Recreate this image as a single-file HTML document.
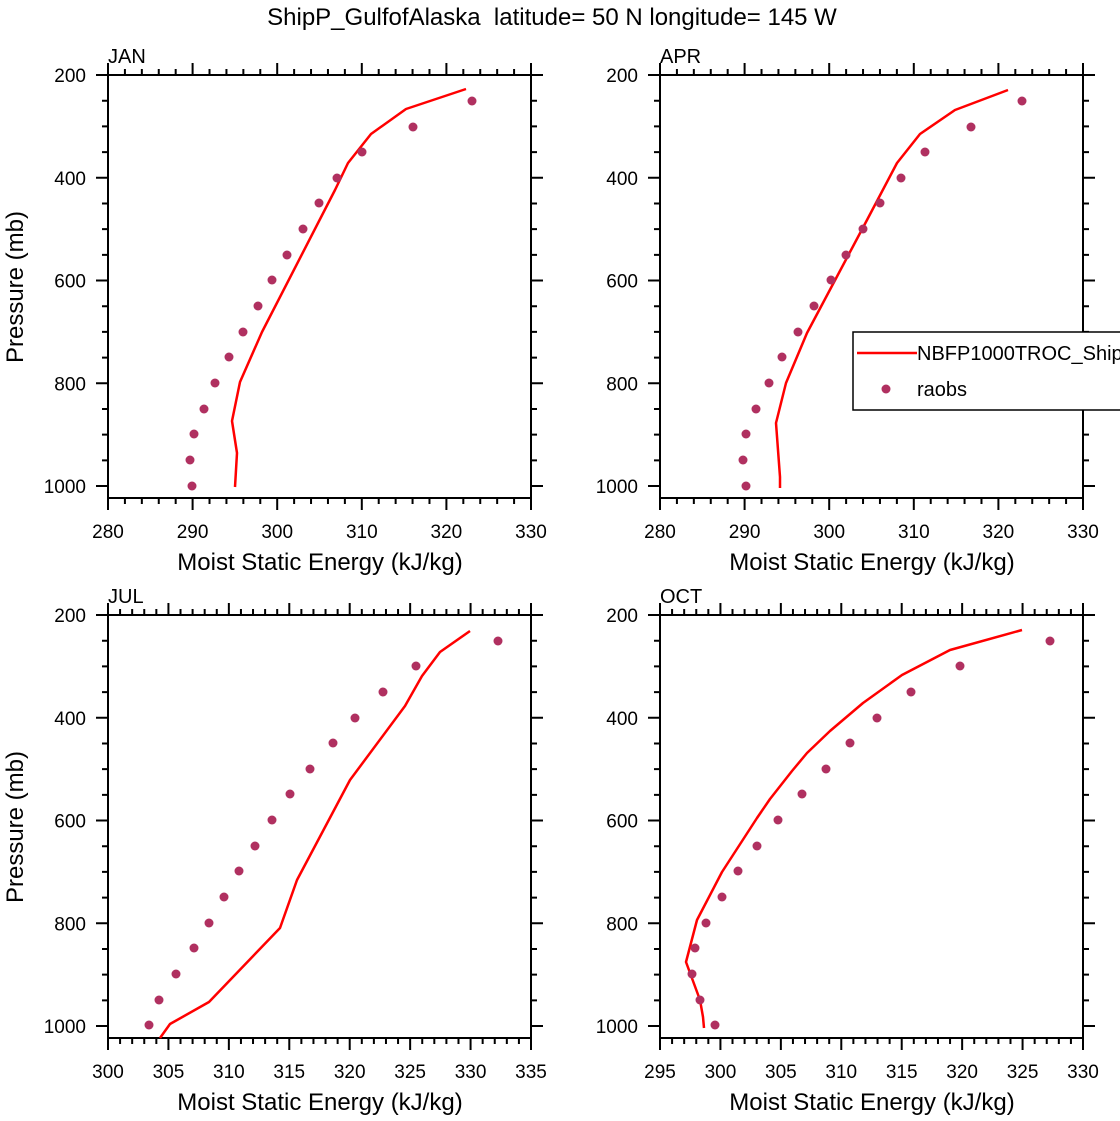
<!DOCTYPE html>
<html><head><meta charset="utf-8"><style>
html,body{margin:0;padding:0;background:#fff;}
svg{display:block;font-family:"Liberation Sans",Arial,sans-serif;}
</style></head><body>
<svg id="s" width="1120" height="1121" viewBox="0 0 1120 1121" xmlns="http://www.w3.org/2000/svg">
<text x="552" y="25" font-size="24" text-anchor="middle" style="white-space:pre">ShipP_GulfofAlaska  latitude= 50 N longitude= 145 W</text>
</svg>
<script>
var s=document.getElementById('s');var NS='http://www.w3.org/2000/svg';
function el(t,a,txt){var e=document.createElementNS(NS,t);for(var k in a)e.setAttribute(k,a[k]);if(txt!=null)e.textContent=txt;s.appendChild(e);return e;}
var W=423,H=423,ppm=411/800;
var panels=[
 {x:108,y:75,name:'JAN',x0:280,x1:330,maj:10,min:2,
  line:[[466,89],[406,109],[371,134],[348,163],[335,190],[262,332],[240,382],[232,421],[237,453],[235,487]],
  dots:[[472,101],[413,127],[362,152],[337,178],[319,203],[303,229],[287,255],[272,280],[258,306],[243,332],[229,357],[215,383],[204,409],[194,434],[190,460],[192,486]],ylab:true},
 {x:660,y:75,name:'APR',x0:280,x1:330,maj:10,min:2,
  line:[[1008,90],[955,110],[920,134],[897,163],[867,220],[807,333],[786,383],[776,423],[780,477],[780,488]],
  dots:[[1022,101],[971,127],[925,152],[901,178],[880,203],[863,229],[846,255],[831,280],[814,306],[798,332],[782,357],[769,383],[756,409],[746,434],[743,460],[746,486]]},
 {x:108,y:615,name:'JUL',x0:300,x1:335,maj:5,min:1,
  line:[[470,631],[440,652],[422,676],[405,706],[350,780],[297,880],[280,928],[209,1002],[170,1024],[160,1038]],
  dots:[[498,641],[416,666],[383,692],[355,718],[333,743],[310,769],[290,794],[272,820],[255,846],[239,871],[224,897],[209,923],[194,948],[176,974],[159,1000],[149,1025]],ylab:true},
 {x:660,y:615,name:'OCT',x0:295,x1:330,maj:5,min:1,
  line:[[1022,630],[950,650],[902,675],[863,703],[830,731],[807,753],[792,771],[770,799],[757,818],[722,872],[697,920],[686,962],[700,1000],[703,1017],[704,1028]],
  dots:[[1050,641],[960,666],[911,692],[877,718],[850,743],[826,769],[802,794],[778,820],[757,846],[738,871],[722,897],[706,923],[695,948],[692,974],[700,1000],[715,1025]]}
];
panels.forEach(function(p){
 var d='';var sc=W/(p.x1-p.x0);
 for(var v=p.x0;v<=p.x1+1e-6;v+=p.min){var X=p.x+(v-p.x0)*sc;var r=(v-p.x0)%p.maj;var L=(Math.abs(r)<1e-6||Math.abs(r-p.maj)<1e-6)?12:6;
  d+='M'+X+' '+p.y+'v-'+L+'M'+X+' '+(p.y+H)+'v'+L;
  if(L==12)el('text',{x:X,y:p.y+H+40,'font-size':19,'text-anchor':'middle'},String(Math.round(v)));}
 for(var m=200;m<=1000;m+=50){var Y=p.y+(m-200)*ppm;var L=(m%200==0)?12:6;
  d+='M'+p.x+' '+Y+'h-'+L+'M'+(p.x+W)+' '+Y+'h'+L;
  if(L==12)el('text',{x:p.x-22,y:Y+7,'font-size':19,'text-anchor':'end'},String(m));}
 el('path',{d:d,stroke:'#000','stroke-width':2,fill:'none'});
 el('rect',{x:p.x,y:p.y,width:W,height:H,fill:'none',stroke:'#000','stroke-width':2});
 el('text',{x:p.x,y:p.y-12,'font-size':20},p.name);
 el('text',{x:p.x+212,y:p.y+H+72,'font-size':24,'text-anchor':'middle'},'Moist Static Energy (kJ/kg)');
 if(p.ylab){var cy=p.y+212;el('text',{x:23,y:cy,'font-size':24,'text-anchor':'middle',transform:'rotate(-90 23 '+cy+')'},'Pressure (mb)');}
 el('polyline',{points:p.line.map(function(a){return a.join(',')}).join(' '),fill:'none',stroke:'#f00','stroke-width':2.5,'stroke-linejoin':'round'});
 p.dots.forEach(function(a){el('circle',{cx:a[0],cy:a[1],r:4.5,fill:'#b03060'});});
});
el('rect',{x:853,y:332,width:270,height:78,fill:'#fff',stroke:'#000','stroke-width':1.5});
el('line',{x1:857,y1:353,x2:917,y2:353,stroke:'#f00','stroke-width':2.5});
el('text',{x:917,y:360,'font-size':20},'NBFP1000TROC_ShipP');
el('circle',{cx:886,cy:389,r:4.5,fill:'#b03060'});
el('text',{x:917,y:396,'font-size':20},'raobs');
</script>
</body></html>
